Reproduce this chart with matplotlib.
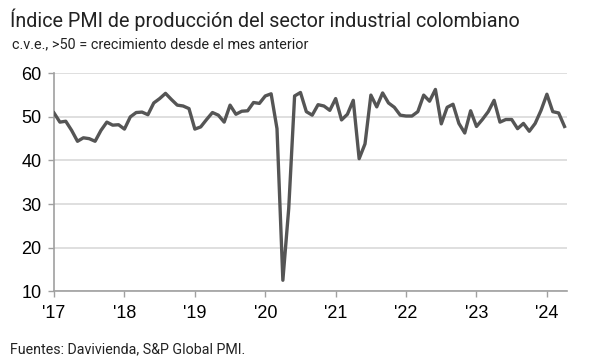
import numpy as np
import matplotlib
matplotlib.use("Agg")
from matplotlib import pyplot as plt

# PMI produccion, mensual ene-2017 .. abr-2024
pmi_2017 = [50.9, 48.8, 49.0, 46.9, 44.4, 45.2, 45.0, 44.4, 46.9, 48.8, 48.1, 48.2]
pmi_2018 = [47.2, 50.0, 51.0, 51.1, 50.5, 53.2, 54.2, 55.4, 54.0, 52.7, 52.5, 51.9]
pmi_2019 = [47.2, 47.7, 49.4, 51.0, 50.4, 48.8, 52.7, 50.6, 51.3, 51.4, 53.3, 53.1]
pmi_2020 = [54.8, 55.3, 47.3, 12.5, 29.0, 54.8, 55.6, 51.2, 50.4, 52.8, 52.5, 51.5]
pmi_2021 = [54.2, 49.3, 50.6, 53.8, 40.4, 43.8, 55.0, 52.3, 55.5, 53.2, 52.2, 50.4]
pmi_2022 = [50.2, 50.2, 51.2, 55.0, 53.6, 56.3, 48.4, 52.2, 52.9, 48.5, 46.3, 51.4]
pmi_2023 = [47.8, 49.4, 51.2, 53.8, 48.8, 49.4, 49.4, 47.3, 48.5, 46.7, 48.5, 51.5]
pmi_2024 = [55.2, 51.2, 50.9, 47.8]

values = pmi_2017 + pmi_2018 + pmi_2019 + pmi_2020 + pmi_2021 + pmi_2022 + pmi_2023 + pmi_2024
year_labels = ["'17", "'18", "'19", "'20", "'21", "'22", "'23", "'24"]
y_ticks = [10, 20, 30, 40, 50, 60]

months = np.arange(len(values))

fig = plt.figure(figsize=(5.97, 3.63), dpi=100)
ax = fig.add_axes([0.0905, 0.198, 0.859, 0.6])

ax.plot(months, values, color="#555555", lw=2.4, solid_joinstyle="round", zorder=3)

ax.set_ylim(10, 60)
ax.set_xlim(0, 87.4)
ax.set_yticks(y_ticks)
ax.set_xticks(np.arange(len(year_labels)) * 12)
ax.set_xticklabels(year_labels)
ax.grid(axis="y", color="#dcdcdc", lw=1.3, zorder=0)
ax.set_axisbelow(True)

for s in ["top", "right"]:
    ax.spines[s].set_visible(False)
for s in ["left", "bottom"]:
    ax.spines[s].set_color("#a0a0a0")
    ax.spines[s].set_linewidth(1.2)

ax.tick_params(axis="both", colors="#a0a0a0", length=4, width=1.0,
               labelcolor="black", labelsize=13)
ax.tick_params(axis="x", pad=6)
ax.tick_params(axis="y", pad=5)
for lab in ax.get_xticklabels() + ax.get_yticklabels():
    lab.set_family("Liberation Sans")

fig.text(0.017, 0.945, "Índice PMI de producción del sector industrial colombiano",
         fontsize=14.2, family="Roboto", color="#222222", va="center")
fig.text(0.02, 0.878, "c.v.e., >50 = crecimiento desde el mes anterior",
         fontsize=10.4, family="Roboto", color="#222222", va="center")
fig.text(0.017, 0.037, "Fuentes: Davivienda, S&P Global PMI.",
         fontsize=10.3, family="Roboto", color="#222222", va="center")

fig.savefig("out.png", dpi=100)
